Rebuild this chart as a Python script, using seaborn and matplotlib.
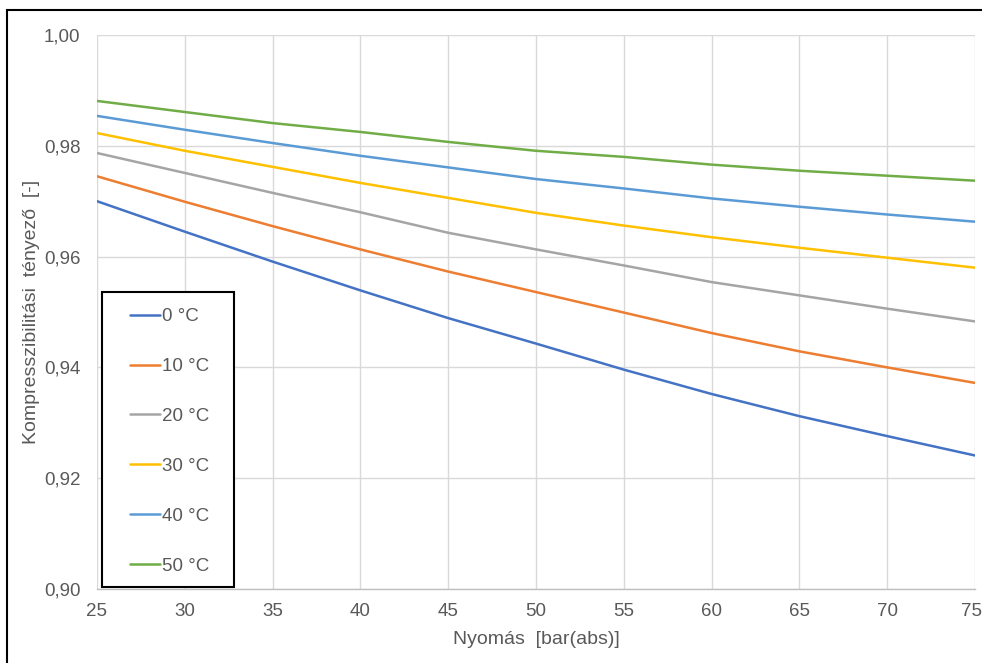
import matplotlib
matplotlib.use("Agg")
import matplotlib.pyplot as plt
import matplotlib.transforms as mtransforms
from matplotlib.patches import Rectangle
from matplotlib.ticker import FuncFormatter
import seaborn as sns
import pandas as pd

# Pressure grid [bar(abs)]
pressure = [25, 30, 35, 40, 45, 50, 55, 60, 65, 70, 75]

# Compressibility factor per temperature
z_0 = [0.9700, 0.9645, 0.9591, 0.9539, 0.9489, 0.9443, 0.9396, 0.9352, 0.9312, 0.9276, 0.9241]
z_10 = [0.9745, 0.9699, 0.9655, 0.9613, 0.9573, 0.9536, 0.9499, 0.9462, 0.9429, 0.9400, 0.9372]
z_20 = [0.9787, 0.9751, 0.9715, 0.9680, 0.9643, 0.9613, 0.9584, 0.9554, 0.9530, 0.9506, 0.9483]
z_30 = [0.9823, 0.9791, 0.9762, 0.9733, 0.9706, 0.9679, 0.9656, 0.9635, 0.9616, 0.9598, 0.9580]
z_40 = [0.9854, 0.9829, 0.9805, 0.9782, 0.9761, 0.9740, 0.9723, 0.9705, 0.9690, 0.9676, 0.9663]
z_50 = [0.9881, 0.9861, 0.9841, 0.9825, 0.9807, 0.9791, 0.9780, 0.9766, 0.9755, 0.9746, 0.9737]

series_labels = ["0 °C", "10 °C", "20 °C", "30 °C", "40 °C", "50 °C"]
series_values = [z_0, z_10, z_20, z_30, z_40, z_50]
colors = ["#4472C4", "#ED7D31", "#A5A5A5", "#FFC000", "#5B9BD5", "#70AD47"]

x_ticks = [25, 30, 35, 40, 45, 50, 55, 60, 65, 70, 75]
y_ticks = [0.90, 0.92, 0.94, 0.96, 0.98, 1.00]

rows = []
for lab, vals in zip(series_labels, series_values):
    for p, z in zip(pressure, vals):
        rows.append({"p": p, "z": z, "T": lab})
df = pd.DataFrame(rows)

sns.set_theme(style="white")
plt.rcParams["font.family"] = ["Liberation Sans", "DejaVu Sans"]

W, H = 982, 663
fig = plt.figure(figsize=(W / 100, H / 100), dpi=100)
ax = fig.add_axes([97 / W, (H - 589) / H, (975 - 97) / W, (589 - 35) / H])

sns.lineplot(data=df, x="p", y="z", hue="T", hue_order=series_labels,
             palette=colors, linewidth=1.8, ax=ax, legend=True)

ax.set_xlim(25, 75)
ax.set_ylim(0.90, 1.00)
ax.set_xticks(x_ticks)
ax.set_yticks(y_ticks)
ax.yaxis.set_major_formatter(FuncFormatter(lambda v, _: f"{v:.2f}".replace(".", ",")))
ax.grid(True, color="#D9D9D9", linewidth=1.0)
ax.set_axisbelow(True)
for s in ["top", "right", "left"]:
    ax.spines[s].set_visible(False)
ax.spines["bottom"].set_color("#BFBFBF")
ax.spines["bottom"].set_linewidth(1.0)
ax.tick_params(axis="both", length=0, labelsize=13.5, labelcolor="#595959")
ax.tick_params(axis="x", pad=10)
ax.tick_params(axis="y", pad=12)

# Keep the last pressure label inside the chart border
last = ax.get_xticklabels()[-1]
last.set_transform(last.get_transform() +
                   mtransforms.ScaledTranslation(-4 / 100, 0, fig.dpi_scale_trans))

ax.set_xlabel("Nyomás  [bar(abs)]", fontsize=14, color="#595959", labelpad=8)
ax.set_ylabel("Kompresszibilitási  tényező  [-]", fontsize=14, color="#595959", labelpad=3)

# Legend with a custom black frame
handles, labels = ax.get_legend_handles_labels()
ax.get_legend().remove()
ax_w, ax_h = 975 - 97, 589 - 35
box_l, box_r, box_t, box_b = 102, 234, 292, 587
frame = Rectangle(((box_l - 97) / ax_w, (589 - box_b) / ax_h),
                  (box_r - box_l) / ax_w, (box_b - box_t) / ax_h,
                  transform=ax.transAxes, fill=True, facecolor="white",
                  edgecolor="black", linewidth=1.5, zorder=4)
ax.add_patch(frame)
leg = ax.legend(handles, labels, frameon=False, loc="upper left",
                bbox_to_anchor=((130 - 97) / ax_w, (589 - 308) / ax_h),
                fontsize=13.5, labelspacing=1.75, handlelength=1.6,
                handletextpad=0.1, borderpad=0, borderaxespad=0)
leg.set_zorder(5)
for t in leg.get_texts():
    t.set_color("#595959")
for h in leg.get_lines():
    h.set_linewidth(1.8)

# Outer chart border
fig.patches.append(Rectangle((7 / W, -0.05), 1.2, 1 - 10 / H + 0.05,
                             transform=fig.transFigure, fill=False,
                             edgecolor="black", linewidth=1.5))

fig.savefig("out.png", dpi=100)
